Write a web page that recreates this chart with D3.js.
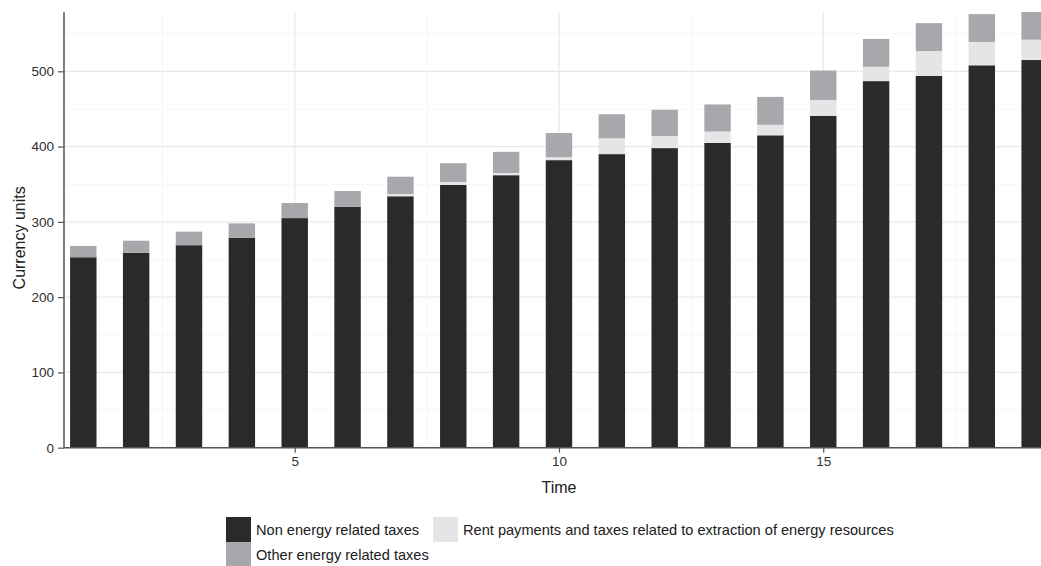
<!DOCTYPE html>
<html>
<head>
<meta charset="utf-8">
<script src="https://cdn.jsdelivr.net/npm/d3@7"></script>
<style>
  html, body { margin: 0; padding: 0; background: #ffffff; }
  svg { display: block; font-family: "Liberation Sans", Arial, sans-serif; }
</style>
</head>
<body>
<svg id="chart" width="1041" height="566"></svg>
<script>
// ---- data ----
const time = [1, 2, 3, 4, 5, 6, 7, 8, 9, 10, 11, 12, 13, 14, 15, 16, 17, 18, 19];
const nonEnergy = [253, 259, 269, 279, 305, 320, 334, 349, 362, 382, 390, 398, 405, 415, 441, 487, 494, 508, 515];
const rentExtraction = [0, 0, 0, 0, 0, 0, 3, 4, 3, 4, 21, 16, 15, 14, 21, 19, 33, 31, 27];
const otherEnergy = [15, 16, 18, 19, 20, 21, 23, 25, 28, 32, 32, 35, 36, 37, 39, 37, 37, 37, 40];
const seriesNames = ["Non energy related taxes", "Rent payments and taxes related to extraction of energy resources", "Other energy related taxes"];
const seriesColors = ["#2b2a2b", "#e4e5e7", "#a7a8ab"];
const yTicks = [0, 100, 200, 300, 400, 500];
const yMinor = [50, 150, 250, 350, 450, 550];
const xTicks = [5, 10, 15];
const xMinor = [2.5, 7.5, 12.5, 17.5];

// ---- layout ----
const svg = d3.select("#chart");
const pLeft = 64, pRight = 1041, pTop = 12, pBottom = 447.7;

const x = d3.scaleLinear().domain([0.635, 19.12]).range([pLeft, pRight]);
const y = d3.scaleLinear().domain([0, 578.8]).range([pBottom, pTop]);
const barW = x(1.5) - x(1);

const rows = time.map((t, i) => ({ t, s0: nonEnergy[i], s1: rentExtraction[i], s2: otherEnergy[i] }));
const stack = d3.stack().keys(["s0", "s1", "s2"])(rows);

svg.append("defs").append("clipPath").attr("id", "clip")
  .append("rect").attr("x", pLeft).attr("y", pTop).attr("width", pRight - pLeft).attr("height", pBottom - pTop);

// gridlines
const grid = svg.append("g");
grid.selectAll(".ymin").data(yMinor).join("line")
  .attr("x1", pLeft).attr("x2", pRight).attr("y1", d => y(d)).attr("y2", d => y(d))
  .attr("stroke", "#f6f6f6").attr("stroke-width", 1);
grid.selectAll(".xmin").data(xMinor).join("line")
  .attr("y1", pTop).attr("y2", pBottom).attr("x1", d => x(d)).attr("x2", d => x(d))
  .attr("stroke", "#f6f6f6").attr("stroke-width", 1);
grid.selectAll(".ymaj").data(yTicks).join("line")
  .attr("x1", pLeft).attr("x2", pRight).attr("y1", d => y(d)).attr("y2", d => y(d))
  .attr("stroke", "#e8e8e8").attr("stroke-width", 1.2);
grid.selectAll(".xmaj").data(xTicks).join("line")
  .attr("y1", pTop).attr("y2", pBottom).attr("x1", d => x(d)).attr("x2", d => x(d))
  .attr("stroke", "#e8e8e8").attr("stroke-width", 1.2);

// bars
const bars = svg.append("g").attr("clip-path", "url(#clip)");
stack.forEach((layer, li) => {
  bars.append("g").attr("fill", seriesColors[li])
    .selectAll("rect").data(layer).join("rect")
    .attr("x", d => x(d.data.t) - barW / 2)
    .attr("width", barW)
    .attr("y", d => y(d[1]))
    .attr("height", d => Math.max(0, y(d[0]) - y(d[1])));
});

// axes
const yAxis = svg.append("g").attr("transform", `translate(${pLeft},0)`)
  .call(d3.axisLeft(y).tickValues(yTicks).tickSize(6).tickPadding(4).tickFormat(d3.format("d")));
const xAxis = svg.append("g").attr("transform", `translate(0,${pBottom})`)
  .call(d3.axisBottom(x).tickValues(xTicks).tickSize(5).tickPadding(4).tickFormat(d3.format("d")));
[yAxis, xAxis].forEach(a => {
  a.select(".domain").attr("stroke", "#555555").attr("stroke-width", 1.5);
  a.selectAll(".tick line").attr("stroke", "#555555").attr("stroke-width", 1.2);
  a.selectAll(".tick text").attr("fill", "#303030").style("font-size", "13.5px")
    .style("font-family", "'Liberation Sans', Arial, sans-serif");
});
xAxis.select(".domain").attr("d", `M${pLeft},0H${pRight}`);
yAxis.select(".domain").attr("d", `M0,${pTop}V${pBottom}`);

// axis titles
svg.append("text").attr("x", x(10)).attr("y", 493)
  .attr("text-anchor", "middle").attr("fill", "#202020").style("font-size", "16px").text("Time");
svg.append("text").attr("transform", `translate(25,${(pTop + pBottom) / 2 + 8}) rotate(-90)`)
  .attr("text-anchor", "middle").attr("fill", "#202020").style("font-size", "16px").text("Currency units");

// legend
const legendItems = [
  { name: seriesNames[0], color: seriesColors[0], kx: 226, ky: 517, tx: 256 },
  { name: seriesNames[1], color: seriesColors[1], kx: 433, ky: 517, tx: 463 },
  { name: seriesNames[2], color: seriesColors[2], kx: 226, ky: 542, tx: 256 }
];
const lg = svg.append("g");
lg.selectAll("rect").data(legendItems).join("rect")
  .attr("x", d => d.kx).attr("y", d => d.ky).attr("width", 25).attr("height", 25)
  .attr("fill", d => d.color);
lg.selectAll("text").data(legendItems).join("text")
  .attr("x", d => d.tx).attr("y", d => d.ky + 18)
  .attr("fill", "#202020").style("font-size", "14.6px").text(d => d.name);
</script>
</body>
</html>
